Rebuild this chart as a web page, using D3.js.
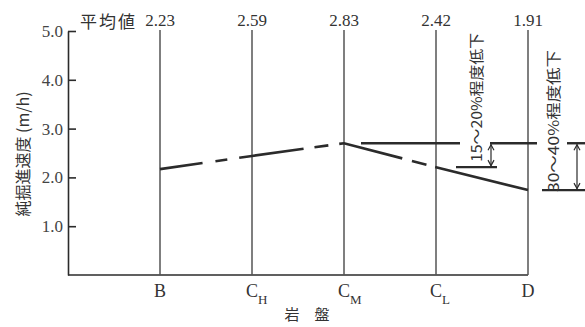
<!DOCTYPE html>
<html><head><meta charset="utf-8">
<script src="https://cdn.jsdelivr.net/npm/d3@7"></script>
<style>
html,body{margin:0;padding:0;background:#fff;}
svg{display:block;}
</style></head>
<body>
<svg id="c" width="585" height="327"></svg>
<script>
const categories = ["B","C_H","C_M","C_L","D"];
const catMain = ["B","C","C","C","D"];
const catSub = ["","H","M","L",""];
const speeds = [2.17, 2.44, 2.70, 2.21, 1.74];
const avgLabels = ["2.23","2.59","2.83","2.42","1.91"];
const yTicks = [1,2,3,4,5];
const annoTexts = ["15～20%程度低下","30～40%程度低下"];
const avgTitle = "平均値";
const xTitle = "岩　盤";
const yTitle = "純掘進速度 (m/h)";

const svg = d3.select("#c");
const ink = "#2b2b2b";
const serif = "'Liberation Serif','DejaVu Serif',serif";
const jp = "'Noto Sans CJK JP','Noto Sans CJK SC',sans-serif";

const x = d3.scaleLinear().domain([0, categories.length]).range([68, 528]);
const y = d3.scaleLinear().domain([0, 5]).range([275, 31]);
const xi = i => x(i + 1);

// bottom axis line
svg.append("line").attr("x1", x(0)).attr("x2", x(categories.length))
  .attr("y1", y(0)).attr("y2", y(0)).attr("stroke", ink).attr("stroke-width", 1.6);

// left axis
const ax = svg.append("g").attr("transform", `translate(${x(0)},0)`)
  .call(d3.axisLeft(y).tickValues(yTicks).tickSize(-8).tickSizeOuter(0).tickPadding(5).tickFormat(d3.format(".1f")));
ax.attr("font-family", serif);
ax.select(".domain").attr("stroke", ink).attr("stroke-width", 1.6);
ax.selectAll(".tick line").attr("stroke", ink).attr("stroke-width", 1.6);
ax.selectAll(".tick text").attr("font-family", serif).attr("font-size", 17).attr("fill", "#444");

// vertical category lines
svg.append("g").selectAll("line").data(categories).join("line")
  .attr("x1", (d,i) => xi(i)).attr("x2", (d,i) => xi(i))
  .attr("y1", 30).attr("y2", y(0))
  .attr("stroke", "#555").attr("stroke-width", 1.5);

// average labels
svg.append("g").selectAll("text").data(avgLabels).join("text")
  .attr("x", (d,i) => xi(i)).attr("y", 26).attr("text-anchor", "middle")
  .attr("font-family", serif).attr("font-size", 17).attr("fill", "#333").text(d => d);
svg.append("text").attr("x", 80).attr("y", 28).attr("font-family", jp).attr("font-size", 17)
  .attr("letter-spacing", 2).attr("fill", "#333").text(avgTitle);

// category labels
const cl = svg.append("g");
cl.selectAll("text.m").data(catMain).join("text").attr("class","m")
  .attr("x", (d,i) => xi(i)).attr("y", 297).attr("text-anchor", "middle")
  .attr("font-family", serif).attr("font-size", 18).attr("fill", "#333").text(d => d);
cl.selectAll("text.s").data(catSub).join("text").attr("class","s")
  .attr("x", (d,i) => xi(i) + 6).attr("y", 304)
  .attr("font-family", serif).attr("font-size", 13).attr("fill", "#333").text(d => d);

// axis titles
svg.append("text").attr("x", 307).attr("y", 320).attr("text-anchor", "middle")
  .attr("font-family", jp).attr("font-size", 15).attr("fill", "#333").text(xTitle);
svg.append("text").attr("transform", `translate(22,154) rotate(-90)`)
  .attr("text-anchor", "middle").attr("dominant-baseline", "central")
  .attr("font-family", jp).attr("font-size", 16).attr("fill", "#333").text(yTitle);

// data line
const line = d3.line().x((d,i) => xi(i)).y(d => y(d));
svg.append("path").datum(speeds).attr("d", line).attr("fill", "none")
  .attr("stroke", ink).attr("stroke-width", 2.6)
  .attr("stroke-dasharray", "43,13,12,12,65,11,14,11,65,10,15,9,1000");

// reference annotation
const ref = speeds[2];
const yr = y(ref);
const t1x = xi(3) + 39, t2x = xi(4) + 24, gap = 15;
const segs = [[xi(2) + 17, t1x - gap], [t1x + gap, t2x - gap], [t2x + gap, 590]];
svg.append("g").selectAll("line").data(segs).join("line")
  .attr("x1", d => d[0]).attr("x2", d => d[1]).attr("y1", yr).attr("y2", yr)
  .attr("stroke", ink).attr("stroke-width", 2.4);

const bars = [
  {v: speeds[3], x1: xi(3) + 20, x2: xi(3) + 61, ax: xi(3) + 55, tx: t1x, ty1: 33, ty2: 162, t: annoTexts[0]},
  {v: speeds[4], x1: xi(4) + 14, x2: 590, ax: xi(4) + 49, tx: t2x, ty1: 50, ty2: 192, t: annoTexts[1]}
];
const ag = svg.append("g");
bars.forEach(b => {
  const yb = y(b.v);
  ag.append("line").attr("x1", b.x1).attr("x2", b.x2).attr("y1", yb).attr("y2", yb)
    .attr("stroke", ink).attr("stroke-width", 2.2);
  ag.append("line").attr("x1", b.ax).attr("x2", b.ax).attr("y1", yr + 1).attr("y2", yb - 1)
    .attr("stroke", ink).attr("stroke-width", 1.2);
  ag.append("path").attr("d", `M${b.ax-3},${yr+7}L${b.ax},${yr+1.5}L${b.ax+3},${yr+7}M${b.ax-3},${yb-7}L${b.ax},${yb-1.5}L${b.ax+3},${yb-7}`)
    .attr("fill", "none").attr("stroke", ink).attr("stroke-width", 1.2);
  ag.append("text").attr("transform", `translate(${b.tx},${(b.ty1 + b.ty2) / 2}) rotate(-90)`)
    .attr("text-anchor", "middle").attr("dominant-baseline", "central")
    .attr("font-family", jp).attr("font-size", 15).attr("fill", "#333")
    .attr("textLength", b.ty2 - b.ty1).attr("lengthAdjust", "spacingAndGlyphs").text(b.t);
});
</script>
</body></html>
